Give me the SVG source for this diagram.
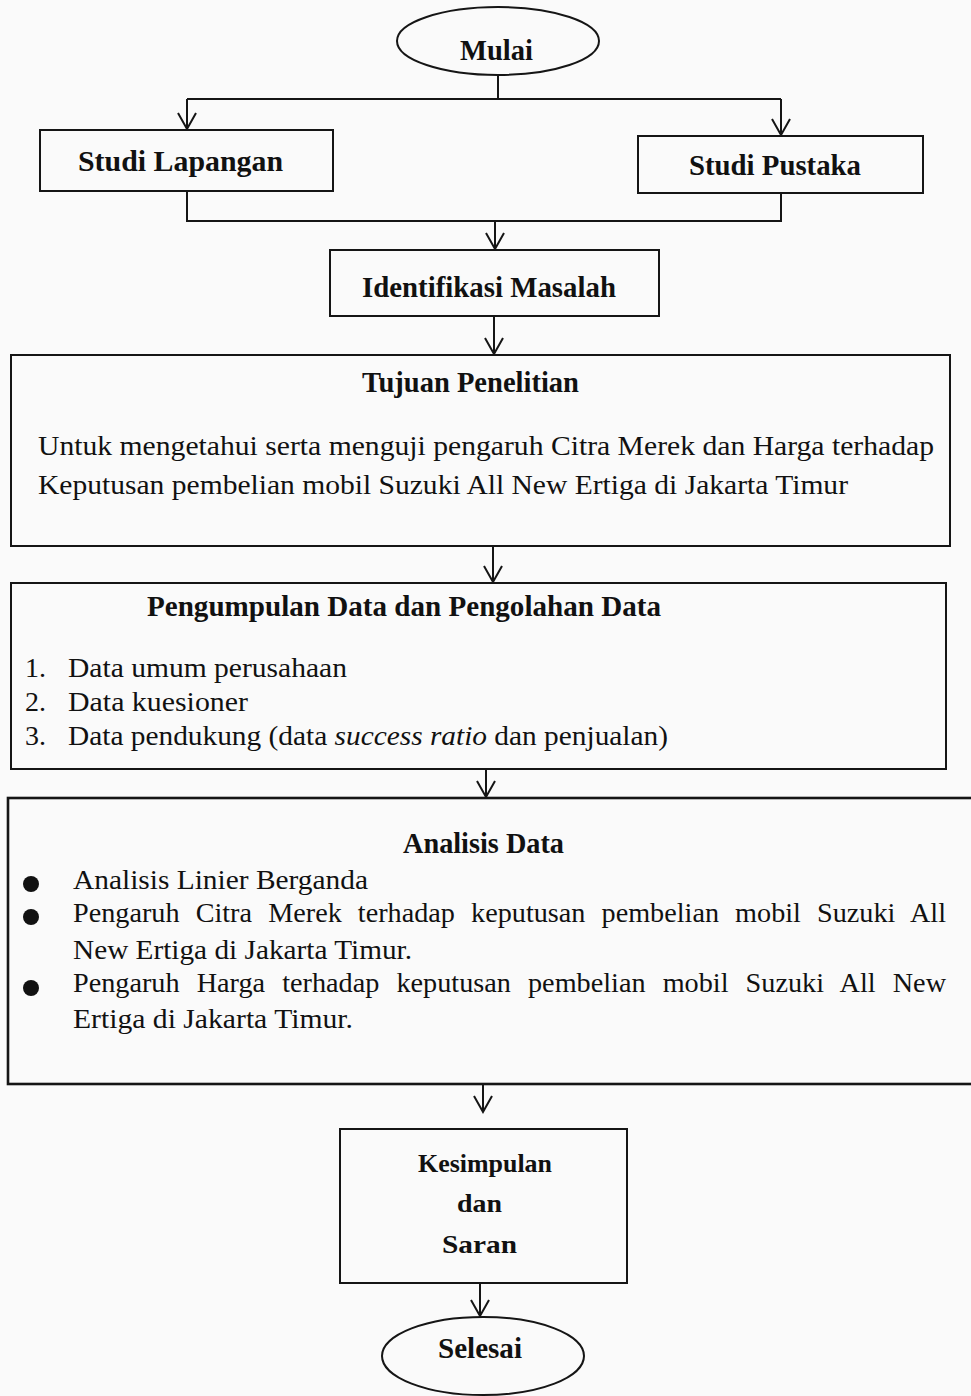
<svg xmlns="http://www.w3.org/2000/svg" width="971" height="1396" viewBox="0 0 971 1396">
<style>
  .box { fill: none; stroke: #151515; stroke-width: 2; }
  .thick { stroke-width: 2.6; }
  .conn { fill: none; stroke: #151515; stroke-width: 2; }
  .b { font-family: "Liberation Serif", "Times New Roman", serif; font-weight: bold; font-size: 29px; fill: #111; }
  .r { font-family: "Liberation Serif", "Times New Roman", serif; font-size: 28px; fill: #111; }
  .it { font-style: italic; }
  .dot { fill: #111; }
</style>
<defs>
  <marker id="arr" viewBox="-2 -11 20 22" refX="16" refY="0" markerWidth="20" markerHeight="22" markerUnits="userSpaceOnUse" orient="auto" overflow="visible">
    <path d="M0 -9 L16 0 L0 9" fill="none" stroke="#151515" stroke-width="2"/>
  </marker>
</defs>
<rect x="0" y="0" width="971" height="1396" fill="#fafafa"/>

<g id="connectors">
  <path class="conn" d="M498 75 V99"/>
  <path class="conn" d="M187 99 H781"/>
  <path class="conn" d="M187 99 V129" marker-end="url(#arr)"/>
  <path class="conn" d="M781 99 V135" marker-end="url(#arr)"/>
  <path class="conn" d="M187 191 V221 H781 V193"/>
  <path class="conn" d="M495 221 V249" marker-end="url(#arr)"/>
  <path class="conn" d="M494 316 V354" marker-end="url(#arr)"/>
  <path class="conn" d="M493 546 V582" marker-end="url(#arr)"/>
  <path class="conn" d="M486 769 V797" marker-end="url(#arr)"/>
  <path class="conn" d="M483 1084 V1112" marker-end="url(#arr)"/>
  <path class="conn" d="M480 1283 V1316" marker-end="url(#arr)"/>
</g>

<g id="mulai">
  <ellipse class="box" cx="498" cy="41" rx="101" ry="34"/>
  <text class="b" x="460" y="60" textLength="73" lengthAdjust="spacingAndGlyphs">Mulai</text>
</g>

<g id="studi-lapangan">
  <rect class="box" x="40" y="130" width="293" height="61"/>
  <text class="b" x="78" y="171" textLength="205" lengthAdjust="spacingAndGlyphs">Studi Lapangan</text>
</g>

<g id="studi-pustaka">
  <rect class="box" x="638" y="136" width="285" height="57"/>
  <text class="b" x="689" y="175" textLength="172" lengthAdjust="spacingAndGlyphs">Studi Pustaka</text>
</g>

<g id="identifikasi-masalah">
  <rect class="box" x="330" y="250" width="329" height="66"/>
  <text class="b" x="362" y="297" textLength="254" lengthAdjust="spacingAndGlyphs">Identifikasi Masalah</text>
</g>

<g id="tujuan-penelitian">
  <rect class="box" x="11" y="355" width="939" height="191"/>
  <text class="b" x="362" y="392" textLength="217" lengthAdjust="spacingAndGlyphs">Tujuan Penelitian</text>
  <text class="r" x="38" y="455" textLength="896" lengthAdjust="spacingAndGlyphs">Untuk mengetahui serta menguji pengaruh Citra Merek dan Harga terhadap</text>
  <text class="r" x="38" y="494" textLength="810" lengthAdjust="spacingAndGlyphs">Keputusan pembelian mobil Suzuki All New Ertiga di Jakarta Timur</text>
</g>

<g id="pengumpulan-data">
  <rect class="box" x="11" y="583" width="935" height="186"/>
  <text class="b" x="147" y="616" textLength="514" lengthAdjust="spacingAndGlyphs">Pengumpulan Data dan Pengolahan Data</text>
  <text class="r" x="25" y="677">1.</text>
  <text class="r" x="68" y="677" textLength="279" lengthAdjust="spacingAndGlyphs">Data umum perusahaan</text>
  <text class="r" x="25" y="711">2.</text>
  <text class="r" x="68" y="711" textLength="180" lengthAdjust="spacingAndGlyphs">Data kuesioner</text>
  <text class="r" x="25" y="745">3.</text>
  <text class="r" x="68" y="745" textLength="600" lengthAdjust="spacingAndGlyphs">Data pendukung (data <tspan class="it">success ratio</tspan> dan penjualan)</text>
</g>

<g id="analisis-data">
  <rect class="box thick" x="8" y="798" width="980" height="286"/>
  <text class="b" x="403" y="853" textLength="161" lengthAdjust="spacingAndGlyphs">Analisis Data</text>
  <circle class="dot" cx="31" cy="884" r="8"/>
  <circle class="dot" cx="31" cy="917" r="8"/>
  <circle class="dot" cx="31" cy="988" r="8"/>
  <text class="r" x="73" y="889" textLength="295" lengthAdjust="spacingAndGlyphs">Analisis Linier Berganda</text>
  <text class="r" x="73" y="922" word-spacing="9" textLength="873" lengthAdjust="spacingAndGlyphs">Pengaruh Citra Merek terhadap keputusan pembelian mobil Suzuki All</text>
  <text class="r" x="73" y="959" textLength="339" lengthAdjust="spacingAndGlyphs">New Ertiga di Jakarta Timur.</text>
  <text class="r" x="73" y="992" word-spacing="10" textLength="873" lengthAdjust="spacingAndGlyphs">Pengaruh Harga terhadap keputusan pembelian mobil Suzuki All New</text>
  <text class="r" x="73" y="1028" textLength="280" lengthAdjust="spacingAndGlyphs">Ertiga di Jakarta Timur.</text>
</g>

<g id="kesimpulan-saran">
  <rect class="box" x="340" y="1129" width="287" height="154"/>
  <text class="b" x="418" y="1172" style="font-size:26px" textLength="134" lengthAdjust="spacingAndGlyphs">Kesimpulan</text>
  <text class="b" x="457" y="1212" style="font-size:26px" textLength="45" lengthAdjust="spacingAndGlyphs">dan</text>
  <text class="b" x="442" y="1253" style="font-size:26px" textLength="75" lengthAdjust="spacingAndGlyphs">Saran</text>
</g>

<g id="selesai">
  <ellipse class="box" cx="483" cy="1356" rx="101" ry="39"/>
  <text class="b" x="438" y="1358" textLength="84" lengthAdjust="spacingAndGlyphs">Selesai</text>
</g>
</svg>
